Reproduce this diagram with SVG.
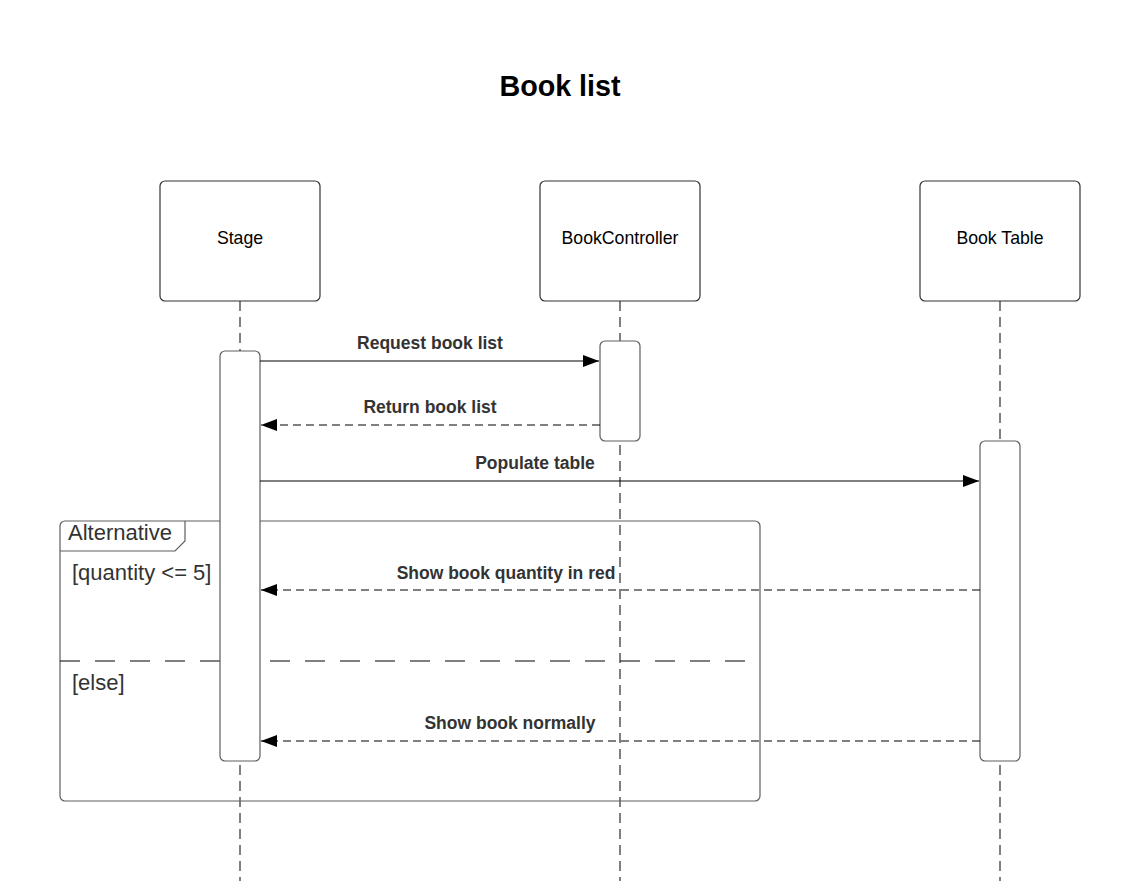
<svg xmlns="http://www.w3.org/2000/svg" width="1140" height="881" viewBox="0 0 1140 881">
<style>
.box{fill:#fff;stroke:#333;stroke-width:1.2}
.act{fill:#fff;stroke:#5e5e5e;stroke-width:1.2}
.life{stroke:#000;stroke-width:1;stroke-dasharray:10,6;fill:none}
.msg{stroke:#000;stroke-width:1;fill:none}
.ret{stroke:#000;stroke-width:1;fill:none;stroke-dasharray:8,5}
.lbl{font-family:"Liberation Sans",Arial,sans-serif;font-size:17.5px;font-weight:bold;fill:#333;text-anchor:middle}
.name{font-family:"Liberation Sans",Arial,sans-serif;font-size:17.7px;fill:#000;text-anchor:middle}
.frm{font-family:"Liberation Sans",Arial,sans-serif;font-size:22px;fill:#333}
</style>
<defs>
<marker id="ah" markerWidth="16" markerHeight="12" refX="16" refY="6" orient="auto" markerUnits="userSpaceOnUse">
<path d="M0,0 L16,6 L0,12 Z" fill="#000"/>
</marker>
</defs>
<rect width="1140" height="881" fill="#fff"/>
<text x="560" y="96" font-family="Liberation Sans,Arial,sans-serif" font-size="28.7" font-weight="bold" text-anchor="middle" fill="#000">Book list</text>

<g id="lifelines">
<line class="life" x1="240" y1="301" x2="240" y2="881"/>
<line class="life" x1="620" y1="301" x2="620" y2="881"/>
<line class="life" x1="1000" y1="301" x2="1000" y2="881"/>
</g>

<g id="alt-frame">
<rect x="60" y="521" width="700" height="280" rx="5" fill="none" stroke="#5e5e5e" stroke-width="1.2"/>
<path d="M60,551 L175,551 L185,541 L185,521" fill="none" stroke="#5e5e5e" stroke-width="1.2"/>
<text class="frm" x="68" y="540">Alternative</text>
<text class="frm" x="72" y="580">[quantity &lt;= 5]</text>
<line x1="60" y1="661" x2="746" y2="661" stroke="#000" stroke-width="1" stroke-dasharray="20,15"/>
<text class="frm" x="72" y="690">[else]</text>
</g>

<g id="stage">
<rect class="box" x="160" y="181" width="160" height="120" rx="5"/>
<text class="name" x="240" y="244">Stage</text>
<rect class="act" x="220" y="351" width="40" height="410" rx="5"/>
</g>
<g id="bookcontroller">
<rect class="box" x="540" y="181" width="160" height="120" rx="5"/>
<text class="name" x="620" y="244">BookController</text>
<rect class="act" x="600" y="341" width="40" height="100" rx="5"/>
</g>
<g id="booktable">
<rect class="box" x="920" y="181" width="160" height="120" rx="5"/>
<text class="name" x="1000" y="244">Book Table</text>
<rect class="act" x="980" y="441" width="40" height="320" rx="5"/>
</g>

<g id="connectors">
<line class="msg" x1="260" y1="361" x2="599" y2="361" marker-end="url(#ah)"/>
<text class="lbl" x="430" y="349">Request book list</text>
<line class="ret" x1="600" y1="425" x2="261" y2="425" marker-end="url(#ah)"/>
<text class="lbl" x="430" y="413">Return book list</text>
<line class="msg" x1="260" y1="481" x2="979" y2="481" marker-end="url(#ah)"/>
<text class="lbl" x="535" y="469">Populate table</text>
<line class="ret" x1="980" y1="590" x2="261" y2="590" marker-end="url(#ah)"/>
<text class="lbl" x="506" y="579">Show book quantity in red</text>
<line class="ret" x1="980" y1="741" x2="261" y2="741" marker-end="url(#ah)"/>
<text class="lbl" x="510" y="729">Show book normally</text>
</g>
</svg>
